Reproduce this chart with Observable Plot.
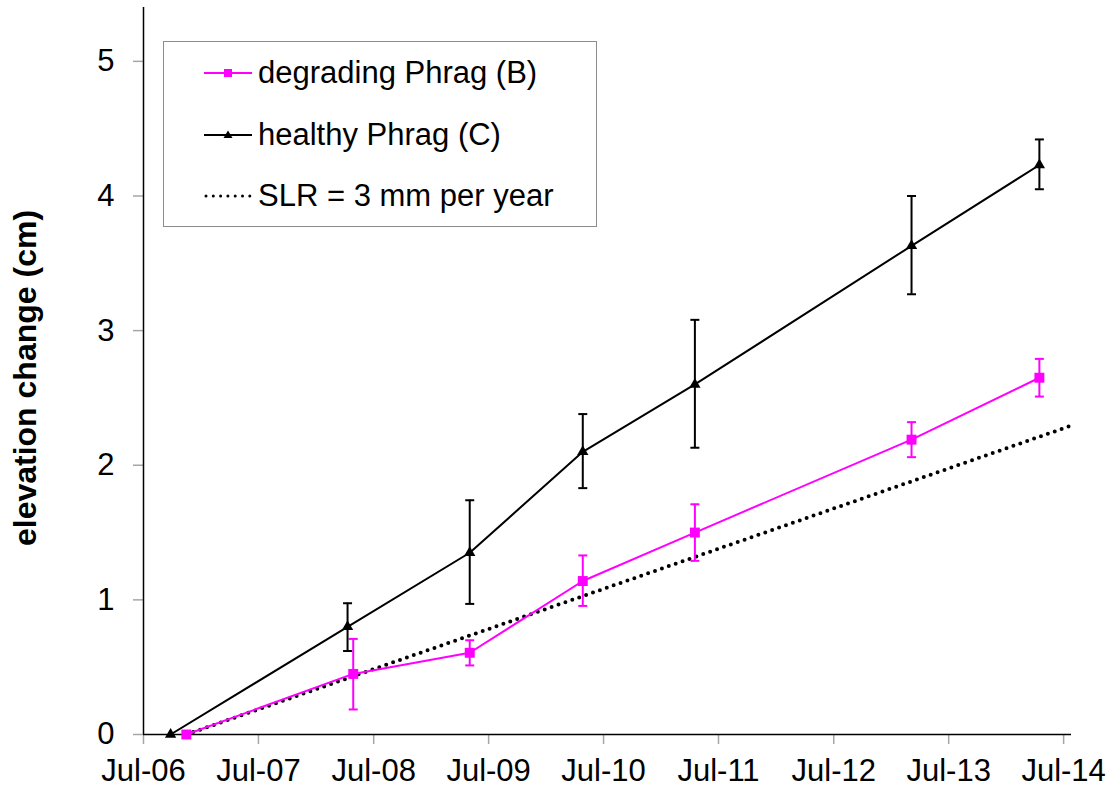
<!DOCTYPE html>
<html>
<head>
<meta charset="utf-8">
<script src="https://cdn.jsdelivr.net/npm/d3@7"></script>
<script src="https://cdn.jsdelivr.net/npm/@observablehq/plot@0.6"></script>
<style>
  html, body { margin: 0; padding: 0; background: #fff; }
  #wrap { position: relative; width: 1110px; height: 791px; font-family: "Liberation Sans", Arial, sans-serif; }
  #legend { position: absolute; left: 163px; top: 41px; width: 432px; height: 184px; border: 1px solid #8c8c8c; background: #fff; }
  .row { position: absolute; left: 0; height: 40px; display: flex; align-items: center; font-size: 31px; color: #000; white-space: nowrap; }
  .row svg { margin-left: 40px; margin-right: 6px; }
</style>
</head>
<body>
<div id="wrap"></div>
<script>
// ---- data ----
const degradingDates = ["2006-11-14", "2008-04-27", "2009-05-02", "2010-04-26", "2011-04-17", "2013-03-05", "2014-04-15"];
const degradingMean  = [0, 0.45, 0.607, 1.14, 1.50, 2.19, 2.65];
const degradingHigh  = [null, 0.71, 0.70, 1.33, 1.71, 2.32, 2.79];
const degradingLow   = [null, 0.186, 0.513, 0.955, 1.29, 2.06, 2.51];

const healthyDates = ["2006-09-25", "2008-04-09", "2009-05-02", "2010-04-26", "2011-04-17", "2013-03-05", "2014-04-15"];
const healthyMean  = [0, 0.80, 1.35, 2.10, 2.60, 3.63, 4.23];
const healthyHigh  = [null, 0.975, 1.74, 2.38, 3.08, 4.00, 4.42];
const healthyLow   = [null, 0.62, 0.97, 1.83, 2.13, 3.27, 4.05];

const slrDates  = ["2006-11-14", "2014-07-20"];
const slrValues = [0, 2.29];

const xTickDates = ["2006-07-01", "2007-07-01", "2008-07-01", "2009-07-01", "2010-07-01", "2011-07-01", "2012-07-01", "2013-07-01", "2014-07-01"];
const xTickLabels = ["Jul-06", "Jul-07", "Jul-08", "Jul-09", "Jul-10", "Jul-11", "Jul-12", "Jul-13", "Jul-14"];
const yTicks = [0, 1, 2, 3, 4, 5];
const yLabel = "elevation change (cm)";
const seriesNames = ["degrading Phrag (B)", "healthy Phrag (C)", "SLR = 3 mm per year"];

// ---- build tables ----
const P = d3.utcParse("%Y-%m-%d");
const degrading = degradingDates.map((d, i) => ({date: P(d), y: degradingMean[i], hi: degradingHigh[i], lo: degradingLow[i]}));
const healthy = healthyDates.map((d, i) => ({date: P(d), y: healthyMean[i], hi: healthyHigh[i], lo: healthyLow[i]}));
const slr = slrDates.map((d, i) => ({date: P(d), y: slrValues[i]}));
const xTicks = xTickDates.map(P);
const labelOf = new Map(xTicks.map((d, i) => [+d, xTickLabels[i]]));
const degErr = degrading.filter(d => d.hi != null);
const heaErr = healthy.filter(d => d.hi != null);

const capSymbol = {
  draw(ctx, size) {
    const r = Math.sqrt(size / Math.PI);
    ctx.moveTo(-r, 0);
    ctx.lineTo(r, 0);
  }
};

const MAG = "#ff00ff";
const font = "'Liberation Sans', Arial, sans-serif";

const chart = Plot.plot({
  width: 1110,
  height: 791,
  marginLeft: 143,
  marginRight: 39,
  marginTop: 7,
  marginBottom: 57,
  style: {fontFamily: font, background: "#fff", color: "#000"},
  x: {type: "utc", domain: [P("2006-07-01"), P("2014-07-26")]},
  y: {domain: [0, 5.4]},
  marks: [
    Plot.axisX({ticks: xTicks, tickSize: 10, stroke: "#a6a6a6", strokeWidth: 1.5, text: null, label: null}),
    Plot.axisX({ticks: xTicks, tickSize: 10, tickPadding: 14, stroke: "none", fill: "#000", fontSize: 31, tickFormat: d => labelOf.get(+d), label: null}),
    Plot.axisY({ticks: yTicks, tickSize: 10, stroke: "#a6a6a6", strokeWidth: 1.5, text: null, label: null}),
    Plot.axisY({ticks: yTicks, tickSize: 10, tickPadding: 19, stroke: "none", fill: "#000", fontSize: 31, tickFormat: d => String(d), label: null}),
    Plot.ruleY([0], {stroke: "#000", strokeWidth: 1.5}),
    Plot.ruleX([P("2006-07-01")], {stroke: "#000", strokeWidth: 1.5}),
    Plot.text([yLabel], {frameAnchor: "left", textAnchor: "middle", lineAnchor: "middle", rotate: -90, dx: -118, dy: 7, fontSize: 32, fontWeight: "bold", fill: "#000"}),
    // SLR dotted
    Plot.line(slr, {x: "date", y: "y", stroke: "#000", strokeWidth: 4, strokeDasharray: "0,7.3", strokeLinecap: "round"}),
    // degrading
    Plot.ruleX(degErr, {x: "date", y1: "lo", y2: "hi", stroke: MAG, strokeWidth: 2}),
    Plot.dot(degErr, {x: "date", y: "hi", symbol: capSymbol, r: 4.5, stroke: MAG, strokeWidth: 2, fill: "none"}),
    Plot.dot(degErr, {x: "date", y: "lo", symbol: capSymbol, r: 4.5, stroke: MAG, strokeWidth: 2, fill: "none"}),
    Plot.line(degrading, {x: "date", y: "y", stroke: MAG, strokeWidth: 2}),
    Plot.dot(degrading, {x: "date", y: "y", symbol: "square", r: 5.6, fill: MAG, stroke: "none"}),
    // healthy
    Plot.ruleX(heaErr, {x: "date", y1: "lo", y2: "hi", stroke: "#000", strokeWidth: 2}),
    Plot.dot(heaErr, {x: "date", y: "hi", symbol: capSymbol, r: 4.5, stroke: "#000", strokeWidth: 2, fill: "none"}),
    Plot.dot(heaErr, {x: "date", y: "lo", symbol: capSymbol, r: 4.5, stroke: "#000", strokeWidth: 2, fill: "none"}),
    Plot.line(healthy, {x: "date", y: "y", stroke: "#000", strokeWidth: 2}),
    Plot.dot(healthy, {x: "date", y: "y", symbol: "triangle", r: 4.2, fill: "#000", stroke: "none"})
  ]
});

const wrap = document.getElementById("wrap");
wrap.appendChild(chart);

// ---- legend ----
const legend = document.createElement("div");
legend.id = "legend";
const samples = [
  `<svg width="48" height="20"><line x1="0" y1="10" x2="48" y2="10" stroke="${MAG}" stroke-width="2"/><rect x="20" y="6" width="8" height="8" fill="${MAG}"/></svg>`,
  `<svg width="48" height="20"><line x1="0" y1="10" x2="48" y2="10" stroke="#000" stroke-width="2"/><path d="M24,5.5 L28.5,13 L19.5,13 Z" fill="#000"/></svg>`,
  `<svg width="48" height="20"><line x1="2" y1="10" x2="46" y2="10" stroke="#000" stroke-width="3" stroke-dasharray="0,7.3" stroke-linecap="round"/></svg>`
];
const rowCenters = [31, 93, 154];
seriesNames.forEach((name, i) => {
  const row = document.createElement("div");
  row.className = "row";
  row.style.top = (rowCenters[i] - 20) + "px";
  row.innerHTML = samples[i] + `<span>${name}</span>`;
  legend.appendChild(row);
});
wrap.appendChild(legend);
</script>
</body>
</html>
